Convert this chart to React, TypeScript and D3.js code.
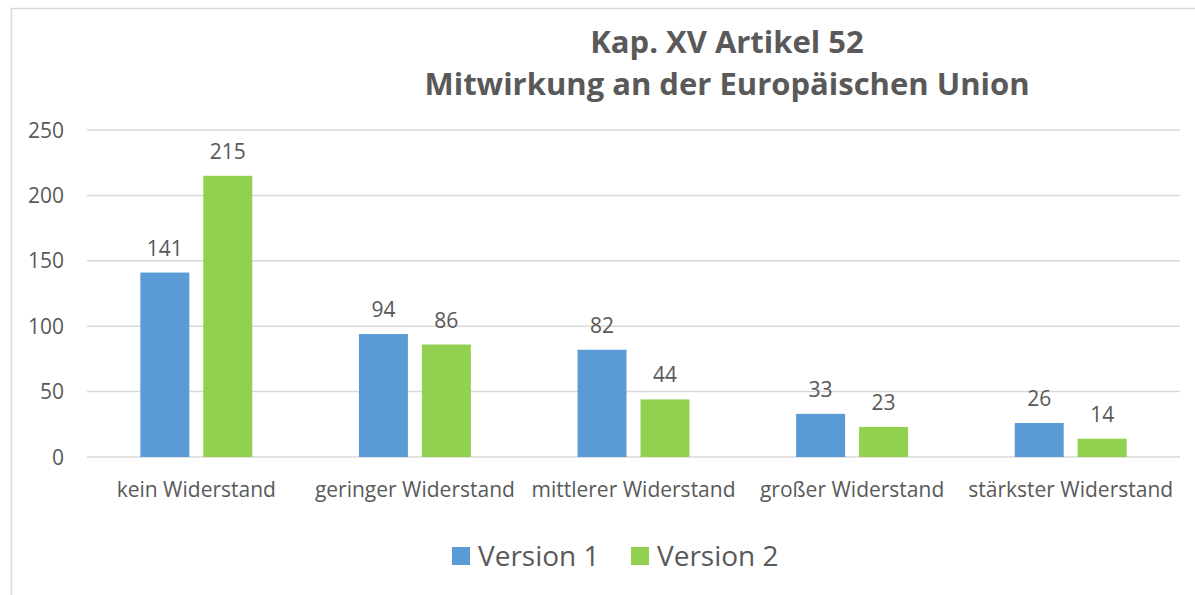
import * as d3 from 'd3';
import React from 'react';

const categories = ['kein Widerstand', 'geringer Widerstand', 'mittlerer Widerstand', 'großer Widerstand', 'stärkster Widerstand'];
const seriesNames = ['Version 1', 'Version 2'];
const version1 = [141, 94, 82, 33, 26];
const version2 = [215, 86, 44, 23, 14];
const yTicks = [0, 50, 100, 150, 200, 250];
const titleLines = ['Kap. XV Artikel 52', 'Mitwirkung an der Europäischen Union'];

const colors = ['#5B9BD5', '#92D050'];
const textColor = '#595959';
const font = '"Open Sans", sans-serif';

const W = 1195;
const H = 595;
const plot = { left: 87, right: 1180, top: 130, bottom: 457 };

const App = () => {
    const series = [version1, version2];

    // outer band per category, inner band per series
    const x0 = d3.scaleBand<string>()
        .domain(categories)
        .range([plot.left, plot.right])
        .paddingInner(0.488)
        .paddingOuter(0.244);
    const x1 = d3.scaleBand<string>()
        .domain(seriesNames)
        .range([0, x0.bandwidth()])
        .paddingInner(0.222);
    const y = d3.scaleLinear().domain([0, 250]).range([plot.bottom, plot.top]);

    return (
        <svg width={W} height={H} style={{ position: 'absolute', left: 0, top: 0, fontFamily: font }}>
            <rect x={0} y={0} width={W} height={H} fill="white" />
            {/* chart frame, cut off at right and bottom */}
            <path d={`M11.5,${H} V8.5 H${W}`} fill="none" stroke="#D9D9D9" strokeWidth={1.5} />

            {titleLines.map((t, i) => (
                <text key={t} x={727} y={53 + i * 42} textAnchor="middle" fontSize={31} fontWeight="bold" fill={textColor}>{t}</text>
            ))}

            {yTicks.map(t => (
                <g key={t}>
                    <line x1={plot.left} x2={plot.right} y1={y(t)} y2={y(t)} stroke="#D9D9D9" strokeWidth={1.5} />
                    <text x={64} y={y(t)} dy="0.36em" textAnchor="end" fontSize={21} fill={textColor}>{t}</text>
                </g>
            ))}

            {categories.map((c, ci) => (
                <g key={c} transform={`translate(${x0(c)},0)`}>
                    {seriesNames.map((s, si) => {
                        const v = series[si][ci];
                        const bx = x1(s)!;
                        return (
                            <g key={s}>
                                <rect x={bx} y={y(v)} width={x1.bandwidth()} height={y(0) - y(v)} fill={colors[si]} />
                                <text x={bx + x1.bandwidth() / 2} y={y(v) - 17} textAnchor="middle" fontSize={21} fill={textColor}>{v}</text>
                            </g>
                        );
                    })}
                </g>
            ))}

            {categories.map(c => (
                <text key={c} x={x0(c)! + x0.bandwidth() / 2} y={497} textAnchor="middle" fontSize={21} fill={textColor}>{c}</text>
            ))}

            {seriesNames.map((s, i) => (
                <g key={s} transform={`translate(${452 + i * 179},547)`}>
                    <rect x={0} y={0} width={18} height={18} fill={colors[i]} />
                    <text x={26} y={9} dy="0.36em" fontSize={28} fill={textColor}>{s}</text>
                </g>
            ))}
        </svg>
    );
};

export default App;
